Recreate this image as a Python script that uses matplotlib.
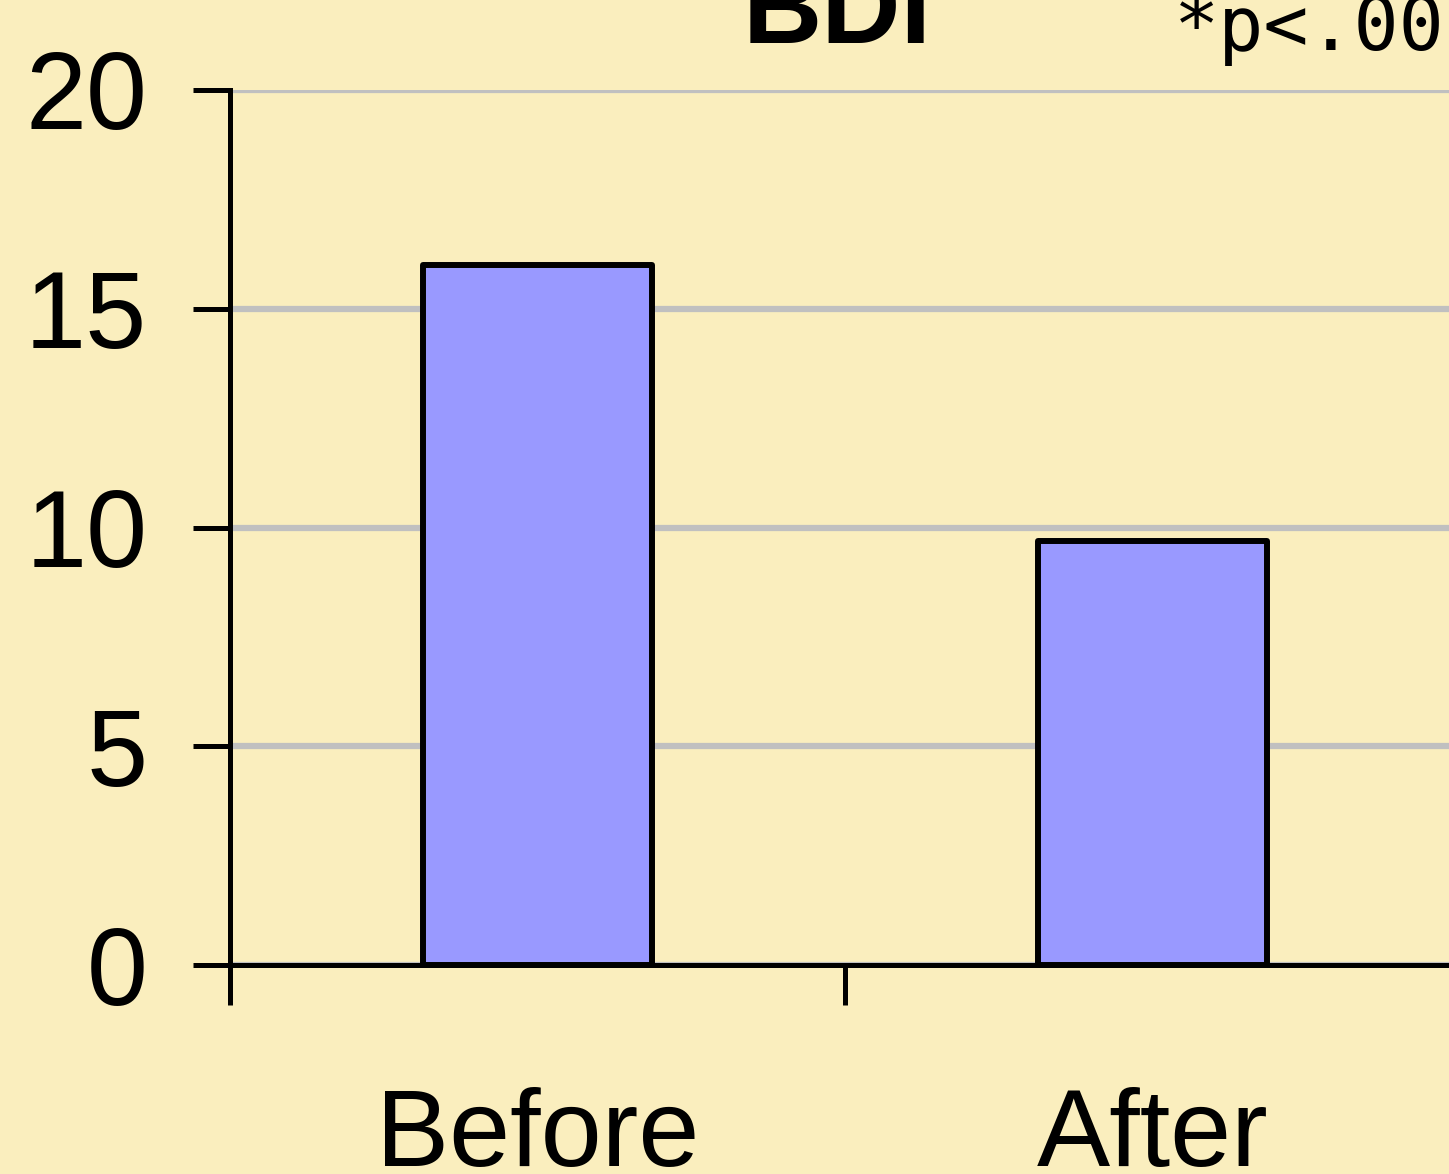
import matplotlib
matplotlib.use("Agg")
import matplotlib.pyplot as plt

# Data
categories = ["Before", "After"]
bdi_scores = [16.0, 9.7]
y_ticks = [0, 5, 10, 15, 20]
title_text = "BDI"
note_text = "*p<.001"

BG = "#FAEEBE"
BAR = "#9999FF"
GRID = "#C0C0C0"
FONT = "Liberation Sans"

fig = plt.figure(figsize=(14.49, 11.74), dpi=100, facecolor=BG)
ax = fig.add_axes([230 / 1449, 1 - 965 / 1174, 1230 / 1449, 875 / 1174])
ax.set_facecolor(BG)

x = list(range(len(categories)))
ax.bar(x, bdi_scores, width=0.372, color=BAR, edgecolor="black",
       linewidth=4.3, zorder=3, joinstyle="round")

ax.set_xlim(-0.5, len(categories) - 0.5)
ax.set_ylim(0, 20)
ax.set_yticks(y_ticks)
ax.set_yticklabels([str(t) for t in y_ticks], fontsize=79, family=FONT)

# category labels centred between boundary ticks
ax.set_xticks([i - 0.5 for i in range(len(categories) + 1)])
ax.set_xticklabels([])
ax.set_xticks(x, minor=True)
ax.set_xticklabels(categories, minor=True, fontsize=79, family=FONT)
ax.tick_params(axis="x", which="major", direction="out", length=28.8, width=3.6)
ax.tick_params(axis="x", which="minor", length=0, pad=88)
ax.tick_params(axis="y", direction="out", length=26.6, width=3.6, pad=33)

ax.yaxis.grid(True, color=GRID, linewidth=4.5, zorder=0)
ax.set_axisbelow(True)

for side in ("top", "right"):
    ax.spines[side].set_visible(False)
for side in ("left", "bottom"):
    ax.spines[side].set_linewidth(3.6)
    ax.spines[side].set_zorder(4)

fig.text(837 / 1449, 1 - 43 / 1174, title_text, ha="center", va="baseline",
         fontsize=79, fontweight="bold", family=FONT)
fig.text(1174 / 1449, 1 - 50 / 1174, note_text, ha="left", va="baseline",
         fontsize=54, family="DejaVu Sans Mono")

fig.savefig("out.png", dpi=100, facecolor=BG)
